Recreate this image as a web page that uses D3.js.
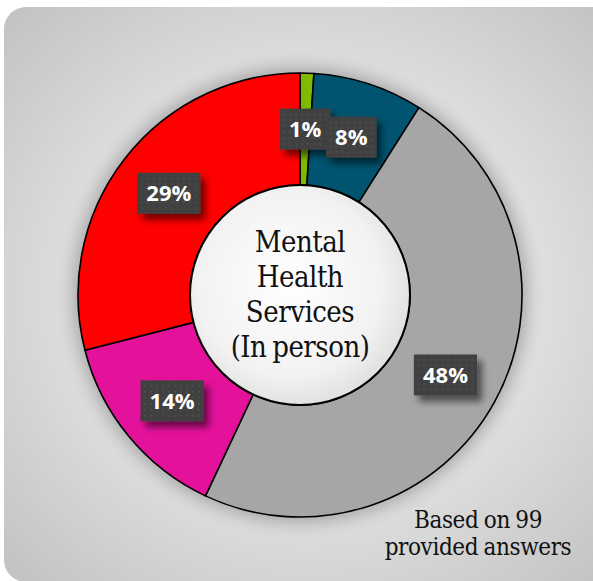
<!DOCTYPE html>
<html>
<head>
<meta charset="utf-8">
<script src="https://cdn.jsdelivr.net/npm/d3@7"></script>
<style>
  html, body { margin: 0; padding: 0; background: #fff; }
  svg { display: block; }
</style>
</head>
<body>
<svg id="chart" width="593" height="581"></svg>
<script>
// slice data, clockwise from 12 o'clock
const categories = ['A', 'B', 'C', 'D', 'E'];
const percents = [1, 8, 48, 14, 29];
const colors = ['#80ba00', '#00546f', '#a6a6a6', '#e4119b', '#ff0000'];
const titleLines = ['Mental', 'Health', 'Services', '(In person)'];
const noteLines = ['Based on 99', 'provided answers'];

const svg = d3.select('#chart');
const width = 593, height = 581;
const cx = 300, cy = 295;
const outerR = 222, innerR = 110;

let defs = svg.append('defs');

// background gradient
let bg = defs.append('radialGradient').attr('id', 'bgGrad')
    .attr('cx', '50%').attr('cy', '50%').attr('r', '70%');
bg.append('stop').attr('offset', '0%').attr('stop-color', '#e8e8e8');
bg.append('stop').attr('offset', '55%').attr('stop-color', '#dedede');
bg.append('stop').attr('offset', '100%').attr('stop-color', '#c2c2c2');

// hole gradient
let hole = defs.append('radialGradient').attr('id', 'holeGrad')
    .attr('cx', '45%').attr('cy', '45%').attr('r', '60%');
hole.append('stop').attr('offset', '0%').attr('stop-color', '#ffffff');
hole.append('stop').attr('offset', '70%').attr('stop-color', '#f2f2f2');
hole.append('stop').attr('offset', '100%').attr('stop-color', '#dcdcdc');

// soft dark glow behind the ring
let glow = defs.append('filter').attr('id', 'glow')
    .attr('x', '-20%').attr('y', '-20%').attr('width', '140%').attr('height', '140%');
glow.append('feGaussianBlur').attr('stdDeviation', 9);

// shadow for label boxes
let sh = defs.append('filter').attr('id', 'boxShadow')
    .attr('x', '-30%').attr('y', '-30%').attr('width', '170%').attr('height', '170%');
sh.append('feDropShadow').attr('dx', 5).attr('dy', 6).attr('stdDeviation', 3.5)
    .attr('flood-color', '#000').attr('flood-opacity', 0.55);

// dotted texture of the label boxes
let pat = defs.append('pattern').attr('id', 'dots')
    .attr('patternUnits', 'userSpaceOnUse').attr('width', 6).attr('height', 6);
pat.append('rect').attr('width', 6).attr('height', 6).attr('fill', '#404040');
pat.append('rect').attr('x', 2).attr('y', 2).attr('width', 2).attr('height', 2).attr('fill', '#4c4c4c');

// card background
svg.append('rect')
    .attr('x', 4).attr('y', 7)
    .attr('width', width + 20).attr('height', height - 6)
    .attr('rx', 22)
    .attr('fill', 'url(#bgGrad)');

let g = svg.append('g').attr('transform', `translate(${cx},${cy})`);

g.append('circle')
    .attr('r', outerR + 4)
    .attr('fill', '#000')
    .attr('opacity', 0.28)
    .attr('filter', 'url(#glow)');

let pie = d3.pie().sort(null).value(d => d.value);
let arc = d3.arc().innerRadius(innerR).outerRadius(outerR);
let data = pie(categories.map((c, i) => ({ key: c, value: percents[i], color: colors[i] })));

g.selectAll('path.slice')
    .data(data)
    .join('path')
    .attr('class', 'slice')
    .attr('d', arc)
    .attr('fill', d => d.data.color)
    .attr('stroke', '#000')
    .attr('stroke-width', 1.6)
    .attr('stroke-linejoin', 'round');

// centre hole
g.append('circle')
    .attr('r', innerR)
    .attr('fill', 'url(#holeGrad)')
    .attr('stroke', '#000')
    .attr('stroke-width', 2);

// centre title
let title = g.append('text')
    .attr('text-anchor', 'middle')
    .attr('font-family', "'DejaVu Serif', serif")
    .attr('font-stretch', 'condensed')
    .attr('font-size', 29)
    .attr('letter-spacing', -0.5)
    .attr('word-spacing', -2)
    .attr('fill', '#111');
titleLines.forEach((t, i) => {
    title.append('tspan').attr('x', 0).attr('y', -43 + i * 35).text(t);
});

// value labels in dark boxes
let labels = g.selectAll('g.lbl')
    .data(data)
    .join('g')
    .attr('class', 'lbl')
    .attr('transform', d => `translate(${arc.centroid(d)})`);

labels.append('rect')
    .attr('filter', 'url(#boxShadow)')
    .attr('fill', 'url(#dots)');

labels.append('text')
    .attr('text-anchor', 'middle')
    .attr('dy', '0.36em')
    .attr('font-family', "'Open Sans', sans-serif")
    .attr('font-weight', 700)
    .attr('font-size', 22)
    .attr('fill', '#fff')
    .text(d => d.data.value + '%');

labels.each(function() {
    let node = d3.select(this);
    let bb = node.select('text').node().getBBox();
    let w = bb.width + 18, h = 41;
    node.select('rect')
        .attr('x', -w / 2).attr('y', -h / 2)
        .attr('width', w).attr('height', h);
});

// footnote
let note = svg.append('text')
    .attr('text-anchor', 'middle')
    .attr('font-family', "'DejaVu Serif', serif")
    .attr('font-stretch', 'condensed')
    .attr('font-size', 24)
    .attr('letter-spacing', -0.4)
    .attr('word-spacing', -1)
    .attr('fill', '#111');
noteLines.forEach((t, i) => {
    note.append('tspan').attr('x', 478).attr('y', 528 + i * 27).text(t);
});
</script>
</body>
</html>
